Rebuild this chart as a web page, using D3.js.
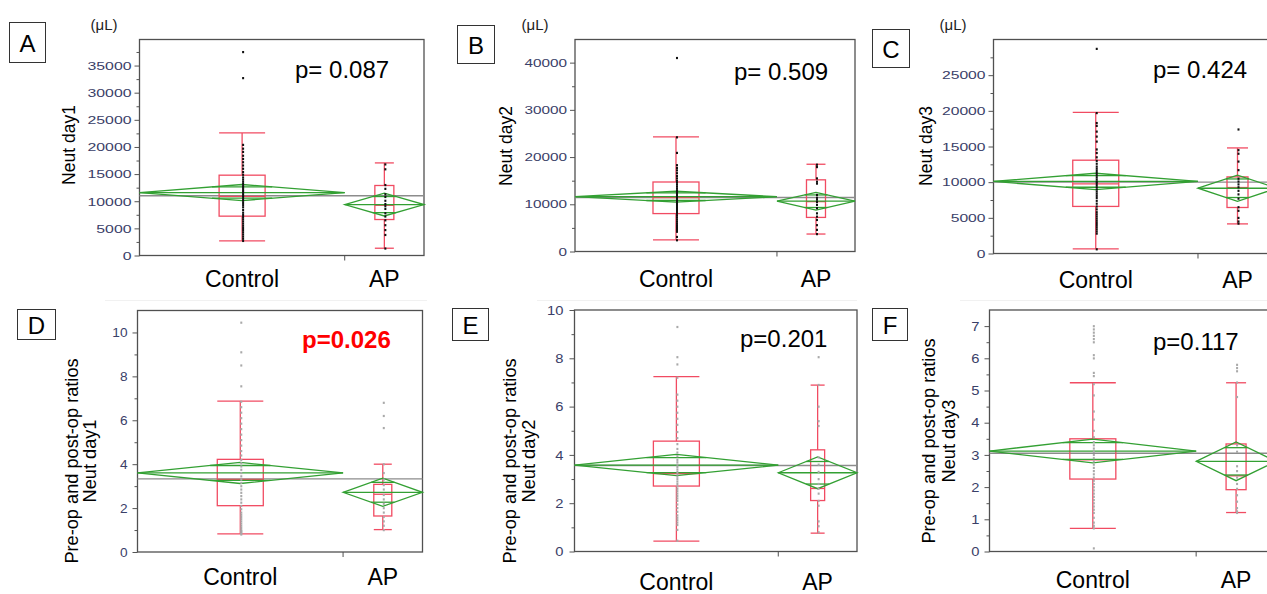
<!DOCTYPE html>
<html>
<head>
<meta charset="utf-8">
<script src="https://cdn.jsdelivr.net/npm/d3@7"></script>
<style>
  body { margin: 0; background: #fff; }
  svg { display: block; font-family: "Liberation Sans", Arial, sans-serif; }
  .tick text { fill: #3a4068; }
  .tick line { stroke: #555; }
</style>
</head>
<body>
<div id="chart"></div>
<script>
// ---- data ----

var groups = ["Control", "AP"];
var panelLetters = ["A", "B", "C", "D", "E", "F"];
var pLabels = ["p= 0.087", "p= 0.509", "p= 0.424", "p=0.026", "p=0.201", "p=0.117"];
var yTitles = [["Neut day1"], ["Neut day2"], ["Neut day3"],
  ["Pre-op and post-op ratios", "Neut day1"],
  ["Pre-op and post-op ratios", "Neut day2"],
  ["Pre-op and post-op ratios", "Neut day3"]];

// y axis max and labelled ticks
var yMax = [39800, 44900, 30000, 11, 10, 7.5];
var ticksA = [0, 5000, 10000, 15000, 20000, 25000, 30000, 35000];
var ticksB = [0, 10000, 20000, 30000, 40000];
var ticksC = [0, 5000, 10000, 15000, 20000, 25000];
var ticksD = [0, 2, 4, 6, 8, 10];
var ticksE = [0, 2, 4, 6, 8, 10];
var ticksF = [0, 1, 2, 3, 4, 5, 6, 7];
var majorTicks = [ticksA, ticksB, ticksC, ticksD, ticksE, ticksF];
var minorStep = [2500, 5000, 2500, 1, 1, 0.5];

// box plots: [whisker low, q1, median, q3, whisker high]
var boxCtrl = [
  [2690, 7250, 10900, 14800, 22590],
  [2470, 8030, 11400, 14720, 24290],
  [650, 6600, 9750, 13080, 19770],
  [0.83, 2.11, 3.31, 4.22, 6.87],
  [0.43, 2.71, 3.23, 4.57, 7.24],
  [0.72, 2.25, 2.85, 3.5, 5.24]];
var boxAP = [
  [1340, 6630, 9250, 12900, 17060],
  [3700, 7220, 10560, 15180, 18480],
  [4150, 6450, 9250, 10740, 14800],
  [1.02, 1.64, 2.63, 3.08, 4.0],
  [0.76, 2.11, 2.61, 4.21, 6.89],
  [1.21, 1.92, 2.35, 3.34, 5.24]];

// means diamonds: [mean, CI half width]
var diamondCtrl = [[11600, 1480], [11610, 1150], [10100, 1150], [3.6, 0.48], [3.58, 0.44], [3.12, 0.37]];
var diamondAP = [[9380, 2100], [10650, 1880], [9150, 1840], [2.72, 0.64], [3.26, 0.66], [2.8, 0.6]];
var grandMean = [11000, 11450, 10000, 3.33, 3.56, 3.05];

// individual observations
var ctrlA = [37500, 32700, 20400, 19700, 19100, 18400, 17800, 17200, 16600, 16000, 15400, 14900, 14400, 14000, 13600, 13200, 12800, 12500, 12200, 11900, 11600, 11300, 11000, 10700, 10400, 10100, 9700, 9300, 8900, 8400, 7900, 7500, 7100, 6700, 6300, 5900, 5500, 5100, 4700, 4300, 3900, 3500, 3100, 2700];
var apA = [16800, 15900, 13000, 12300, 11300, 10800, 10100, 9500, 9100, 8600, 7800, 7200, 6500, 5600, 4700, 3800, 1300];
var ctrlB = [41000, 24200, 20900, 18300, 17700, 17200, 16600, 16000, 15500, 15000, 14600, 14200, 13800, 13400, 13000, 12700, 12400, 12100, 11800, 11500, 11200, 10900, 10600, 10300, 10000, 9700, 9400, 9100, 8800, 8400, 8000, 7600, 7200, 6800, 6400, 6000, 5600, 5200, 4900, 4600, 4400, 4200, 3100, 2400];
var apB = [18400, 17900, 15500, 14800, 14400, 12000, 11400, 11000, 10500, 9900, 9200, 8100, 7400, 6700, 5600, 4600, 3700];
var ctrlC = [28700, 19700, 18300, 17900, 17100, 16400, 15700, 14600, 14100, 13500, 13000, 12600, 12200, 11900, 11600, 11300, 11000, 10700, 10400, 10100, 9900, 9600, 9300, 9000, 8700, 8400, 8100, 7800, 7400, 7000, 6600, 6200, 5800, 5500, 5200, 4900, 4600, 4300, 4000, 3700, 3400, 3100, 2800, 600];
var apC = [17400, 14500, 14000, 12900, 11700, 10500, 10100, 9700, 9300, 8800, 8300, 7700, 6500, 6000, 5000, 4500, 4200];
var ctrlD = [10.45, 9.1, 8.5, 7.55, 6.85, 6.6, 6.35, 6.1, 5.85, 5.6, 5.35, 5.1, 4.85, 4.6, 4.4, 4.2, 4.05, 3.9, 3.75, 3.6, 3.45, 3.3, 3.15, 3.0, 2.85, 2.7, 2.55, 2.4, 2.25, 2.1, 1.95, 1.8, 1.7, 1.6, 1.5, 1.4, 1.3, 1.2, 1.1, 1.0, 0.95, 0.9, 0.85, 0.8];
var apD = [6.8, 6.2, 5.65, 4.0, 3.6, 3.3, 3.05, 2.85, 2.6, 2.4, 2.2, 2.0, 1.8, 1.6, 1.4, 1.2, 1.0];
var ctrlE = [9.3, 8.05, 7.75, 7.2, 6.5, 6.25, 6.0, 5.75, 5.5, 5.25, 4.95, 4.7, 4.45, 4.25, 4.1, 3.95, 3.8, 3.7, 3.6, 3.5, 3.4, 3.3, 3.2, 3.1, 3.0, 2.9, 2.8, 2.7, 2.6, 2.5, 2.4, 2.3, 2.2, 2.1, 1.95, 1.8, 1.65, 1.5, 1.4, 1.3, 1.2, 1.1, 0.9, 0.45];
var apE = [8.05, 6.9, 6.0, 5.4, 5.2, 3.9, 3.6, 3.3, 3.0, 2.8, 2.6, 2.4, 2.1, 1.9, 1.25, 1.05, 0.8];
var ctrlF = [7.0, 6.9, 6.8, 6.7, 6.6, 6.5, 6.1, 6.0, 5.55, 5.45, 5.2, 4.85, 4.35, 4.1, 3.75, 3.55, 3.4, 3.3, 3.2, 3.1, 3.0, 2.9, 2.8, 2.7, 2.6, 2.5, 2.4, 2.3, 2.2, 2.1, 2.0, 1.9, 1.8, 1.7, 1.6, 1.5, 1.4, 1.3, 1.2, 1.05, 0.9, 0.8, 0.72, 0.1];
var apF = [5.8, 5.7, 5.6, 5.25, 4.8, 3.3, 3.1, 2.65, 2.5, 2.3, 2.1, 1.95, 1.75, 1.55, 1.35, 1.25, 1.2];

var ctrlDots = [ctrlA, ctrlB, ctrlC, ctrlD, ctrlE, ctrlF];
var apDots = [apA, apB, apC, apD, apE, apF];

// ---- layout (pixels) ----
// tick: [font size, digit width, padding]
var layout = [
  {left: 139.5, top: 39.5, right: 424, bottom: 255.5, box: [9, 22, 36, 40], unit: [104, 30], ytl: [69], yty: 145, xlab: 287, p: [295, 78], apBox: 19, tick: [11.8, 8.8, 3]},
  {left: 575, top: 39.5, right: 855, bottom: 251.5, box: [457, 25, 37, 38], unit: [535, 30], ytl: [506], yty: 146, xlab: 287, p: [734, 80], apBox: 19, tick: [11.5, 8.5, 3]},
  {left: 993.5, top: 39.5, right: 1277, bottom: 253.5, box: [872, 29, 37, 38], unit: [953, 30], ytl: [926], yty: 146, xlab: 288, p: [1153, 78], apBox: 21, tick: [11.8, 8.7, 3]},
  {left: 137.5, top: 310.5, right: 422.5, bottom: 552, box: [17, 309, 38, 30], ytl: [71.5, 90], yty: 461, xlab: 585, p: [302, 348], apBox: 18, faint: [105, 427], tick: [13, 7.6, 5]},
  {left: 574.5, top: 310, right: 857, bottom: 551.5, box: [452, 308, 36, 32], ytl: [510, 528.5], yty: 461, xlab: 590, p: [740, 347], apBox: 14, faint: [537, 857], tick: [13.5, 8.2, 6]},
  {left: 989.5, top: 310, right: 1276, bottom: 551.5, box: [872, 308, 35, 32], ytl: [928.5, 948.5], yty: 441, xlab: 588, p: [1153, 350], apBox: 20, faint: [960, 1267], tick: [13, 8.2, 5]}
];

var red = "#f14b62", green = "#33a033", grey = "#8c8c8c";

var svg = d3.select("#chart").append("svg")
  .attr("width", 1267)
  .attr("height", 594);

function drawPanel(i) {
  var L = layout[i];
  var g = svg.append("g");
  var y = d3.scaleLinear().domain([0, yMax[i]]).range([L.bottom, L.top]);
  var n0 = ctrlDots[i].length, n1 = apDots[i].length;
  var frac = n0 / (n0 + n1);
  var x = d3.scaleLinear().domain([0, 1]).range([L.left, L.right]);
  var spans = [[0, frac], [frac, 1]];

  if (L.faint) {
    g.append("line").attr("x1", L.faint[0]).attr("x2", L.faint[1])
      .attr("y1", 300.5).attr("y2", 300.5).attr("stroke", "#f1f1f1");
  }

  // minor ticks
  var minors = d3.range(minorStep[i], yMax[i], minorStep[i]).filter(function(v) {
    return majorTicks[i].indexOf(+v.toFixed(3)) < 0;
  });
  g.append("g").attr("transform", "translate(" + L.left + ",0)")
    .call(d3.axisLeft(y).tickValues(minors).tickSize(3).tickFormat(""))
    .call(function(s) { s.select(".domain").remove(); });
  // major ticks
  g.append("g").attr("transform", "translate(" + L.left + ",0)")
    .call(d3.axisLeft(y).tickValues(majorTicks[i]).tickSize(5).tickPadding(L.tick[2]).tickFormat(d3.format("d")))
    .call(function(s) {
      s.select(".domain").remove();
      s.selectAll("text")
        .attr("font-size", L.tick[0])
        .attr("lengthAdjust", "spacingAndGlyphs")
        .attr("textLength", function(d) { return String(d).length * L.tick[1]; });
    });

  // frame
  g.append("rect").attr("x", L.left).attr("y", L.top)
    .attr("width", L.right - L.left).attr("height", L.bottom - L.top)
    .attr("fill", "none").attr("stroke", "#505050").attr("stroke-width", 1.3);
  // divider tick on x axis
  g.append("line").attr("x1", x(frac)).attr("x2", x(frac))
    .attr("y1", L.bottom).attr("y2", L.bottom + 5).attr("stroke", "#505050");

  // grand mean
  g.append("line").attr("x1", L.left).attr("x2", L.right)
    .attr("y1", y(grandMean[i])).attr("y2", y(grandMean[i]))
    .attr("stroke", grey).attr("stroke-width", 1.4);

  var diamonds = [diamondCtrl[i], diamondAP[i]];
  var boxes = [boxCtrl[i], boxAP[i]];
  var dots = [ctrlDots[i], apDots[i]];
  var boxW = [46, L.apBox];

  spans.forEach(function(sp, k) {
    var x0 = x(sp[0]), x1 = x(sp[1]), xc = (x0 + x1) / 2, hw = (x1 - x0) / 2;
    var m = diamonds[k][0], h = diamonds[k][1];

    // box plot
    var b = boxes[k], bw = boxW[k];
    var bg = g.append("g").attr("stroke", red).attr("stroke-width", 1.3).attr("fill", "none");
    bg.append("rect").attr("x", xc - bw / 2).attr("y", y(b[3]))
      .attr("width", bw).attr("height", y(b[1]) - y(b[3]));
    bg.append("line").attr("x1", xc - bw / 2).attr("x2", xc + bw / 2).attr("y1", y(b[2])).attr("y2", y(b[2]));
    bg.append("line").attr("x1", xc).attr("x2", xc).attr("y1", y(b[4])).attr("y2", y(b[3]));
    bg.append("line").attr("x1", xc).attr("x2", xc).attr("y1", y(b[1])).attr("y2", y(b[0]));
    bg.append("line").attr("x1", xc - bw / 2).attr("x2", xc + bw / 2).attr("y1", y(b[4])).attr("y2", y(b[4]));
    bg.append("line").attr("x1", xc - bw / 2).attr("x2", xc + bw / 2).attr("y1", y(b[0])).attr("y2", y(b[0]));

    // means diamond
    var dg = g.append("g").attr("stroke", green).attr("stroke-width", 1.3).attr("fill", "none");
    dg.append("path").attr("d", "M" + x0 + "," + y(m) + "L" + xc + "," + y(m + h) +
      "L" + x1 + "," + y(m) + "L" + xc + "," + y(m - h) + "Z");
    dg.append("line").attr("x1", x0).attr("x2", x1).attr("y1", y(m)).attr("y2", y(m));
    var k2 = Math.SQRT1_2, ow = hw * (1 - k2);
    [m + h * k2, m - h * k2].forEach(function(v) {
      dg.append("line").attr("x1", xc - ow).attr("x2", xc + ow).attr("y1", y(v)).attr("y2", y(v));
    });

    // points
    g.selectAll(null).data(dots[k]).enter().append("rect")
      .attr("x", xc)
      .attr("y", function(d) { return y(d) - 1; })
      .attr("width", 2).attr("height", 2.2)
      .attr("fill", i < 3 ? "#111" : "#a9a9a9");

    // category label
    g.append("text").attr("x", xc).attr("y", L.xlab)
      .attr("text-anchor", "middle").attr("font-size", 23).attr("fill", "#000")
      .text(groups[k]);
  });

  // p value
  g.append("text").attr("x", L.p[0]).attr("y", L.p[1])
    .attr("font-size", 24)
    .attr("font-weight", i == 3 ? "bold" : "normal")
    .attr("fill", i == 3 ? "#ff0000" : "#000")
    .text(pLabels[i]);

  // y title
  yTitles[i].forEach(function(t, j) {
    g.append("text")
      .attr("transform", "translate(" + L.ytl[j] + "," + L.yty + ") rotate(-90)")
      .attr("text-anchor", "middle").attr("dominant-baseline", "central")
      .attr("font-size", i < 3 ? 17.5 : 18.2).attr("fill", "#000")
      .text(t);
  });

  // unit
  if (L.unit) {
    g.append("text").attr("x", L.unit[0]).attr("y", L.unit[1])
      .attr("text-anchor", "middle").attr("font-size", 15).attr("fill", "#222")
      .text("(μL)");
  }

  // panel letter box
  g.append("rect").attr("x", L.box[0] + 0.5).attr("y", L.box[1] + 0.5)
    .attr("width", L.box[2]).attr("height", L.box[3])
    .attr("fill", "#fff").attr("stroke", "#333");
  g.append("text").attr("x", L.box[0] + L.box[2] / 2 + 0.5).attr("y", L.box[1] + L.box[3] / 2 + 1)
    .attr("text-anchor", "middle").attr("dominant-baseline", "central")
    .attr("font-size", 24).attr("fill", "#000")
    .text(panelLetters[i]);
}

for (var i = 0; i < 6; i++) drawPanel(i);
</script>
</body>
</html>
